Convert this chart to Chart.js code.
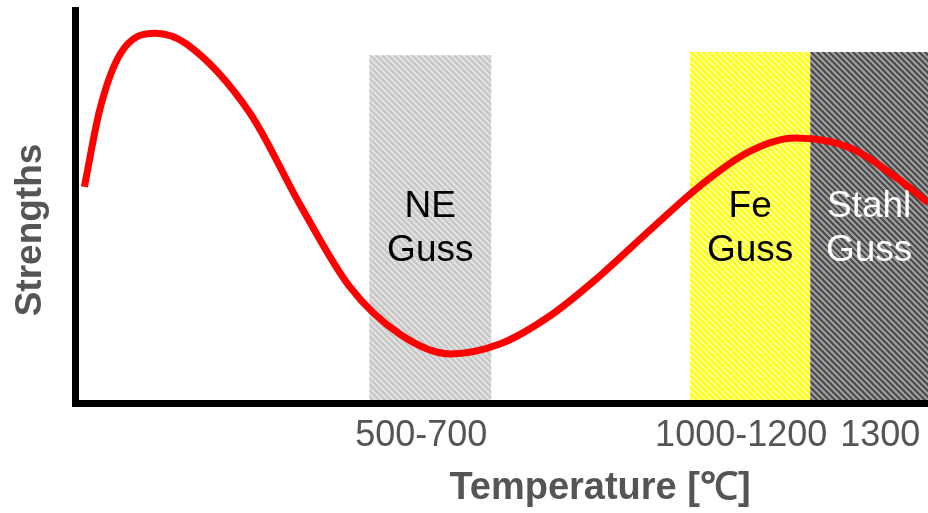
<!DOCTYPE html>
<html>
<head>
<meta charset="utf-8">
<script src="https://cdn.jsdelivr.net/npm/chart.js@4/dist/chart.umd.min.js"></script>
<style>
  html, body { margin: 0; padding: 0; background: #fff; }
  #wrap { width: 928px; height: 513px; }
</style>
</head>
<body>
<div id="wrap"><canvas id="chart" width="928" height="513"></canvas></div>
<script>
// curve (x: 0-100 along the axis, y: 0-100 strength)
const curveX = [1.1, 2.9, 5.3, 9.4, 13.1, 20.5, 26.4, 32.2, 38.1, 44.0, 49.8, 55.7, 61.5, 67.4, 73.3, 79.1, 84.4, 90.9, 96.7, 100];
const curveY = [55.0, 74.6, 88.8, 94.1, 91.3, 73.8, 50.4, 29.6, 17.5, 12.5, 15.0, 22.2, 32.3, 44.0, 55.3, 64.0, 67.4, 64.9, 56.7, 51.0];

// casting ranges
const rangeLabels = [['NE', 'Guss'], ['Fe', 'Guss'], ['Stahl', 'Guss']];
const rangeStart = [34.5, 72.1, 86.2];
const rangeEnd = [48.8, 86.2, 100];
const rangeTop = [88.5, 89.3, 89.3];

// x tick labels
const tickLabels = ['500-700', '1000-1200', '1300'];
const tickPositions = [40.6, 78.1, 94.4];

const yTitle = 'Strengths';
const xTitle = 'Temperature [\u2103]';

const FONT = '"Liberation Sans", Arial, Helvetica, sans-serif';

function makeHatch(bg, fg) {
  const s = 6;
  const c = document.createElement('canvas');
  c.width = s; c.height = s;
  const g = c.getContext('2d');
  g.fillStyle = bg;
  g.fillRect(0, 0, s, s);
  g.strokeStyle = fg;
  g.lineWidth = 2;
  g.beginPath();
  g.moveTo(-1, -1); g.lineTo(s + 1, s + 1);
  g.moveTo(-1, s - 1); g.lineTo(1, s + 1);
  g.moveTo(s - 1, -1); g.lineTo(s + 1, 1);
  g.stroke();
  return g.createPattern(c, 'repeat');
}

const ctx = document.getElementById('chart').getContext('2d');
const boxFills = [
  makeHatch('#c6c6c6', '#e2e2e2'),
  makeHatch('#ffff00', '#ffffa8'),
  makeHatch('#4a4a4a', '#a2a2a2')
];
const boxTextColors = ['#000', '#000', '#fff'];

const rangesPlugin = {
  id: 'ranges',
  beforeDraw(chart) {
    const { ctx, scales: { x, y } } = chart;
    ctx.save();
    rangeStart.forEach((start, i) => {
      const left = x.getPixelForValue(start);
      const right = x.getPixelForValue(rangeEnd[i]);
      const top = y.getPixelForValue(rangeTop[i]);
      const bottom = y.getPixelForValue(0);
      ctx.fillStyle = boxFills[i];
      ctx.fillRect(left, top, right - left, bottom - top);

      ctx.fillStyle = boxTextColors[i];
      ctx.font = '37px ' + FONT;
      ctx.textAlign = 'center';
      ctx.textBaseline = 'middle';
      const cx = (left + right) / 2;
      ctx.fillText(rangeLabels[i][0], cx, 207);
      ctx.fillText(rangeLabels[i][1], cx, 251);
    });

    // axis titles
    ctx.fillStyle = '#555';
    ctx.font = 'bold 38px ' + FONT;
    ctx.textAlign = 'center';
    ctx.textBaseline = 'middle';
    ctx.fillText(xTitle, 600, 489);
    ctx.font = 'bold 37px ' + FONT;
    ctx.translate(31, 230);
    ctx.rotate(-Math.PI / 2);
    ctx.fillText(yTitle, 0, 0);
    ctx.restore();
  }
};

new Chart(ctx, {
  type: 'line',
  data: {
    datasets: [{
      data: curveX.map((v, i) => ({ x: v, y: curveY[i] })),
      borderColor: '#ff0000',
      borderWidth: 7,
      pointRadius: 0,
      fill: false,
      cubicInterpolationMode: 'monotone'
    }]
  },
  options: {
    responsive: false,
    animation: false,
    events: [],
    layout: { padding: { top: 10, right: 0, left: 0, bottom: 0 } },
    plugins: {
      legend: { display: false },
      tooltip: { enabled: false }
    },
    scales: {
      x: {
        type: 'linear',
        min: 0,
        max: 100,
        afterFit: (scale) => {
          scale.height = 110;
          scale.paddingLeft = 0;
          scale.paddingRight = 0;
        },
        afterBuildTicks: (scale) => {
          scale.ticks = tickPositions.map(v => ({ value: v }));
        },
        grid: { display: false, drawTicks: false },
        border: { display: true, color: '#000', width: 7 },
        ticks: {
          maxRotation: 0,
          autoSkip: false,
          padding: 11,
          color: '#555',
          font: { family: FONT, size: 36 },
          callback: (value, index) => tickLabels[index]
        }
      },
      y: {
        min: 0,
        max: 100,
        afterFit: (scale) => { scale.width = 75; },
        grid: { display: false, drawTicks: false },
        border: { display: true, color: '#000', width: 7 },
        ticks: { display: false }
      }
    }
  },
  plugins: [rangesPlugin]
});
</script>
</body>
</html>
